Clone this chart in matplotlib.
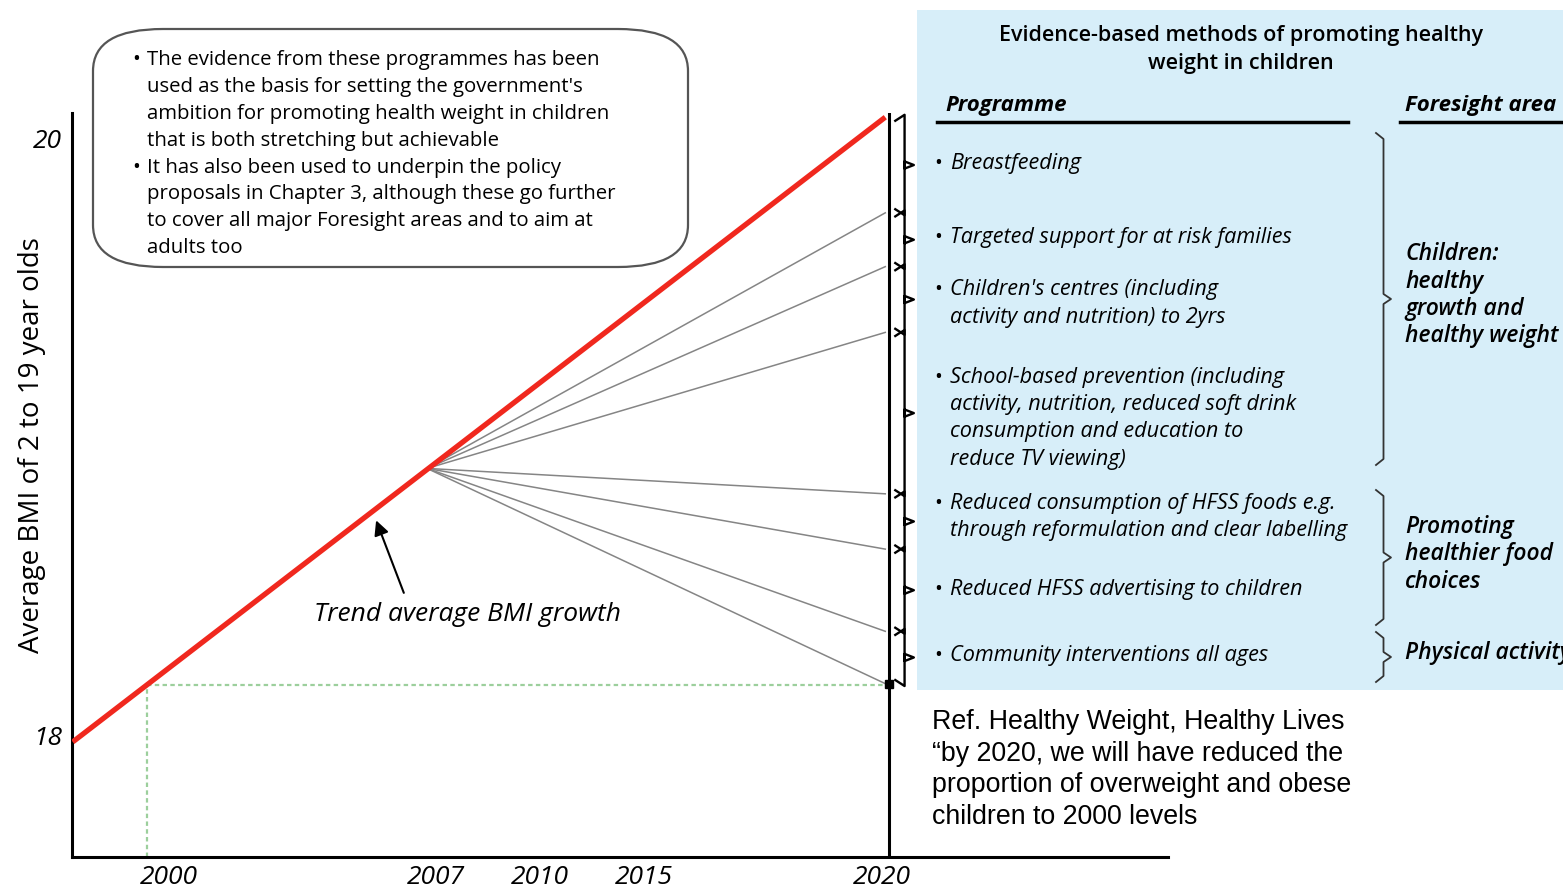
import matplotlib.pyplot as plt
from matplotlib.patches import FancyBboxPatch, Rectangle

plt.rcParams['font.family'] = ['Open Sans', 'DejaVu Sans']

# trend of average BMI (2-19 year olds)
trend_years = [1998.0, 2019.9]
trend_bmi = [17.98, 20.07]

# fan of programme effects, from 2007 to 2020
fan_start_year = 2007.55
fan_start_bmi = 18.895
fan_end_year = 2019.9
fan_end_bmi = [19.75, 19.57, 19.35, 18.81, 18.625, 18.35, 18.175]

# 2000 level target
target_year = 2000
target_bmi = 18.17

xtick_pos = [2000.6, 2007.8, 2010.6, 2013.4, 2019.8]
xtick_labels = ['2000', '2007', '2010', '2015', '2020']
ytick_pos = [18, 20]
ytick_labels = ['18', '20']

callout_lines = [
    ('•', 'The evidence from these programmes has been'),
    ('', 'used as the basis for setting the government\'s'),
    ('', 'ambition for promoting health weight in children'),
    ('', 'that is both stretching but achievable'),
    ('•', 'It has also been used to underpin the policy'),
    ('', 'proposals in Chapter 3, although these go further'),
    ('', 'to cover all major Foresight areas and to aim at'),
    ('', 'adults too'),
]

programmes = [
    ['Breastfeeding'],
    ['Targeted support for at risk families'],
    ['Children\'s centres (including', 'activity and nutrition) to 2yrs'],
    ['School-based prevention (including', 'activity, nutrition, reduced soft drink',
     'consumption and education to', 'reduce TV viewing)'],
    ['Reduced consumption of HFSS foods e.g.', 'through reformulation and clear labelling'],
    ['Reduced HFSS advertising to children'],
    ['Community interventions all ages'],
]
programme_y = [163, 238, 290, 377, 503, 590, 656]

foresight = [
    ['Children:', 'healthy', 'growth and', 'healthy weight'],
    ['Promoting', 'healthier food', 'choices'],
    ['Physical activity'],
]
foresight_y = [254, 527, 653]
foresight_span = [(133, 465), (490, 625), (632, 682)]

ref_lines = ['Ref. Healthy Weight, Healthy Lives',
             '\u201cby 2020, we will have reduced the',
             'proportion of overweight and obese',
             'children to 2000 levels']


def brace(axis, x, y0, y1, w, d, dt, **kw):
    ym = (y0 + y1) / 2
    xs = [x, x + w / 2, x + w / 2, x + w, x + w / 2, x + w / 2, x]
    ys = [y0, y0 + d, ym - dt, ym, ym + dt, y1 - d, y1]
    axis.plot(xs, ys, **kw)


fig = plt.figure(figsize=(15.63, 8.94), dpi=100)
ax = fig.add_axes([72 / 1563, 37 / 894, 1096 / 1563, 744 / 894])
ax.set_xlim(1997.98, 2027.52)
ax.set_ylim(17.595, 20.084)
for s in ['top', 'right']:
    ax.spines[s].set_visible(False)
for s in ['left', 'bottom']:
    ax.spines[s].set_linewidth(2.2)

ax.set_xticks(xtick_pos)
ax.set_xticklabels(xtick_labels, fontsize=19, style='italic')
ax.set_yticks(ytick_pos)
ax.set_yticklabels(ytick_labels, fontsize=19, style='italic')
ax.tick_params(axis='x', length=0, pad=6)
ax.tick_params(axis='y', length=0, pad=7)
ax.set_ylabel('Average BMI of 2 to 19 year olds', fontsize=20)
ax.yaxis.set_label_coords(-0.024, 0.554)

# green dotted 2000 reference
ax.plot([target_year, fan_end_year], [target_bmi, target_bmi], color='#9ccf9c',
        ls=(0, (2, 1.5)), lw=1.6, zorder=2)
ax.plot([target_year, target_year], [17.595, target_bmi], color='#9ccf9c',
        ls=(0, (2, 1.5)), lw=1.6, zorder=2)

for e in fan_end_bmi:
    ax.plot([fan_start_year, fan_end_year], [fan_start_bmi, e], color='#858585', lw=1.1, zorder=3)

ax.plot(trend_years, trend_bmi, color='#f0281e', lw=3.8, solid_capstyle='butt', zorder=5)
ax.axvline(2020, color='black', lw=2.2, zorder=4)
ax.plot(2020, fan_end_bmi[-1], 's', color='black', ms=6, zorder=6)

# braces grouping each programme's effect
levels = [trend_bmi[-1]] + fan_end_bmi
for a, b in zip(levels[:-1], levels[1:]):
    brace(ax, 2020.17, a - 0.012, b + 0.012, 0.5, 0.02, 0.012,
          color='black', lw=1.7, clip_on=False, zorder=6)

ax.annotate('', xy=(2006.15, 18.73), xytext=(2006.95, 18.47),
            arrowprops=dict(arrowstyle='-|>', color='black', lw=1.5, mutation_scale=22))
ax.text(2008.65, 18.405, 'Trend average BMI growth', fontsize=19, style='italic',
        ha='center', va='center')

# overlay in pixel coordinates for the annotation boxes
ov = fig.add_axes([0, 0, 1, 1], zorder=10)
ov.set_xlim(0, 1563)
ov.set_ylim(894, 0)
ov.axis('off')

box = FancyBboxPatch((93, 29), 595, 238, boxstyle='round,pad=0,rounding_size=70',
                     mutation_aspect=0.6, facecolor='white', edgecolor='#555555', lw=1.6)
ov.add_patch(box)
for i, (b, t) in enumerate(callout_lines):
    y = 60 + i * 26.9
    if b:
        ov.text(132, y, b, fontsize=15, ha='left', va='center')
    ov.text(147, y, t, fontsize=14.7, ha='left', va='center')

ov.add_patch(Rectangle((917, 10), 660, 680, facecolor='#d7eef9', edgecolor='none'))
ov.text(1241, 35, 'Evidence-based methods of promoting healthy', fontsize=15.5,
        fontweight='semibold', ha='center', va='center')
ov.text(1241, 63, 'weight in children', fontsize=15.5, fontweight='semibold',
        ha='center', va='center')
ov.text(945, 106, 'Programme', fontsize=16, fontweight='bold', style='italic', va='center')
ov.text(1405, 106, 'Foresight area', fontsize=16, fontweight='bold', style='italic', va='center')
ov.plot([937, 1348], [122, 122], color='black', lw=2.5)
ov.plot([1400, 1563], [122, 122], color='black', lw=2.5)

for lines, y0 in zip(programmes, programme_y):
    ov.text(934, y0, '•', fontsize=15, va='center')
    for j, t in enumerate(lines):
        ov.text(950, y0 + j * 27.5, t, fontsize=15.6, style='italic', va='center')

for lines, y0 in zip(foresight, foresight_y):
    for j, t in enumerate(lines):
        ov.text(1405, y0 + j * 27.5, t, fontsize=16.5, style='italic', fontweight='semibold',
                va='center', clip_on=False)

for a, b in foresight_span:
    brace(ov, 1376, a, b, 15, 6, 5, color='#333333', lw=1.3)

for j, t in enumerate(ref_lines):
    ov.text(932, 722 + j * 31.7, t, fontsize=19.3, family='Liberation Sans', va='center')

fig.savefig('out.png', dpi=100)
